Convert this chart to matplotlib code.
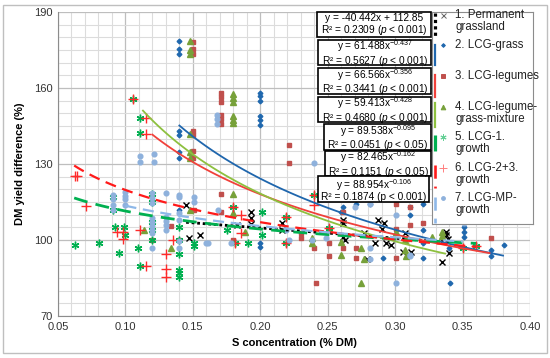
import numpy as np
import matplotlib
matplotlib.use("Agg")
import matplotlib.pyplot as plt
from matplotlib.patches import Rectangle

plt.rcParams['font.family'] = ['Liberation Sans', 'DejaVu Sans']
plt.rcParams['mathtext.fontset'] = 'custom'
plt.rcParams['mathtext.rm'] = 'Liberation Sans'
plt.rcParams['mathtext.it'] = 'Liberation Sans:italic'

# Data (S concentration, DM yield difference)
pg_x = [0.145, 0.147, 0.155, 0.183, 0.193, 0.193, 0.193, 0.216, 0.216, 0.261, 0.261, 0.261, 0.263, 0.277, 0.279,
        0.285, 0.287, 0.292, 0.290, 0.293, 0.297, 0.306, 0.312, 0.307, 0.338, 0.338, 0.339, 0.340, 0.335]
pg_y = [113.8, 100.7, 102.0, 105.9, 111.0, 108.5, 106.5, 106.6, 104.0, 107.9, 106.6, 101.3, 100.0, 102.6, 92.4,
        98.7, 107.9, 106.9, 104.4, 98.9, 98.0, 95.1, 95.1, 102.6, 102.0, 103.3, 100.5, 94.8, 91.4]

grass_x = [0.14, 0.14, 0.14, 0.14, 0.14, 0.14, 0.14, 0.14, 0.20, 0.20, 0.20, 0.20, 0.20, 0.20, 0.20, 0.20,
           0.261, 0.271, 0.281, 0.311, 0.311, 0.321, 0.321, 0.321, 0.321, 0.291, 0.340, 0.341, 0.351, 0.351,
           0.351, 0.371, 0.371, 0.381, 0.26]
grass_y = [178.4, 175.4, 173.4, 143.0, 141.5, 134.9, 132.2, 112.0, 158.0, 156.7, 155.0, 148.9, 147.2, 145.4, 98.7, 97.4,
           113.1, 114.1, 114.1, 113.1, 109.9, 114.1, 104.0, 98.7, 92.8, 92.8, 96.7, 82.9, 105.3, 103.3,
           101.3, 96.0, 93.7, 98.0, 111.2]

leg_x = [0.15, 0.15, 0.15, 0.15, 0.15, 0.15, 0.15, 0.151, 0.134, 0.12, 0.14, 0.171, 0.171, 0.171, 0.171, 0.171,
         0.171, 0.171, 0.171, 0.221, 0.221, 0.230, 0.230, 0.240, 0.241, 0.251, 0.251, 0.261, 0.261, 0.271, 0.271,
         0.301, 0.301, 0.301, 0.311, 0.311, 0.321, 0.371, 0.18]
leg_y = [178.0, 175.5, 173.5, 143.0, 141.5, 135.2, 132.5, 112.0, 105.5, 100.0, 100.0, 158.1, 156.6, 154.6, 149.3, 147.6,
         145.8, 118.0, 111.0, 137.5, 130.3, 102.6, 100.7, 96.7, 83.1, 98.7, 93.7, 111.2, 96.7, 96.7, 92.8,
         114.1, 104.2, 92.8, 113.1, 105.9, 106.8, 100.9, 100.0]

mix_x = [0.148, 0.148, 0.148, 0.148, 0.148, 0.148, 0.148, 0.18, 0.18, 0.18, 0.18, 0.18, 0.18, 0.18, 0.18,
         0.114, 0.134, 0.189, 0.238, 0.238, 0.251, 0.260, 0.260, 0.275, 0.277, 0.275, 0.301, 0.307, 0.307, 0.308,
         0.327, 0.335, 0.335]
mix_y = [178.5, 175.0, 173.5, 142.0, 134.9, 132.2, 111.8, 157.8, 156.0, 154.6, 149.0, 147.5, 146.0, 118.0, 110.5,
         104.0, 96.8, 103.3, 100.7, 98.9, 104.2, 99.3, 94.1, 97.0, 92.4, 82.9, 103.3, 100.0, 96.0, 93.5,
         101.3, 101.6, 103.0]

g1_x = [0.1056, 0.111, 0.111, 0.0626, 0.0806, 0.092, 0.099, 0.100, 0.095, 0.109, 0.111, 0.091, 0.091, 0.12, 0.12,
        0.12, 0.12, 0.12, 0.14, 0.14, 0.14, 0.14, 0.14, 0.14, 0.151, 0.151, 0.175, 0.18, 0.181, 0.191, 0.201,
        0.201, 0.219, 0.219, 0.240, 0.251, 0.350, 0.360]
g1_y = [155.5, 148.0, 142.1, 98.0, 98.7, 105.0, 105.0, 102.0, 94.7, 97.0, 89.7, 117.0, 111.8, 118.0, 115.0,
        107.2, 104.0, 100.0, 105.0, 100.0, 94.4, 88.1, 85.5, 87.0, 98.7, 97.5, 104.0, 113.1, 98.7, 98.9, 111.2,
        102.0, 109.2, 98.7, 117.8, 104.6, 96.7, 97.6]

g23_x = [0.0626, 0.064, 0.071, 0.1056, 0.115, 0.115, 0.094, 0.098, 0.098, 0.115, 0.13, 0.13, 0.13, 0.135, 0.111,
         0.18, 0.186, 0.186, 0.181, 0.219, 0.219, 0.240, 0.240, 0.251, 0.360, 0.350]
g23_y = [125.3, 125.3, 113.5, 155.5, 148.0, 142.0, 103.3, 103.0, 100.3, 89.7, 94.4, 88.4, 85.5, 100.0, 104.0,
         113.1, 109.9, 102.9, 98.7, 109.2, 98.7, 113.8, 117.8, 104.6, 97.6, 96.7]

mp_x = [0.168, 0.168, 0.168, 0.111, 0.111, 0.121, 0.121, 0.091, 0.091, 0.091, 0.091, 0.10, 0.10, 0.10, 0.10,
        0.12, 0.12, 0.12, 0.12, 0.12, 0.12, 0.12, 0.12, 0.12, 0.13, 0.13, 0.13, 0.13, 0.13,
        0.14, 0.14, 0.14, 0.14, 0.14, 0.14, 0.151, 0.151, 0.161, 0.16, 0.178, 0.169, 0.240, 0.219, 0.238,
        0.221, 0.249, 0.281, 0.281, 0.281, 0.301, 0.301, 0.311, 0.311, 0.351, 0.27]
mp_y = [149.3, 147.6, 145.8, 133.1, 130.8, 134.0, 130.8, 117.8, 116.0, 114.0, 112.0, 119.0, 117.5, 116.0, 114.0,
        118.4, 116.5, 114.5, 108.6, 107.0, 105.5, 104.0, 102.6, 97.0, 118.7, 109.2, 107.5, 106.0, 104.0,
        117.8, 117.0, 110.5, 108.0, 99.5, 97.0, 117.0, 115.0, 99.0, 98.7, 98.7, 111.8, 130.3, 104.0, 100.0,
        100.0, 100.7, 114.1, 92.4, 97.0, 109.9, 82.9, 94.1, 93.7, 106.8, 113.0]

# Trendlines (equations shown in chart) and their x ranges
lin_a, lin_b = -40.442, 112.85
pow_a = [61.488, 66.566, 59.413, 89.538, 82.465, 88.954]
pow_b = [-0.437, -0.356, -0.428, -0.095, -0.162, -0.106]
trend_lo = [0.145, 0.14, 0.12, 0.113, 0.062, 0.062, 0.10]
trend_hi = [0.34, 0.38, 0.37, 0.337, 0.36, 0.36, 0.35]
r2 = ["0.2309", "0.5627", "0.3441", "0.4680", "0.0451", "0.1151", "0.1874"]
pval = ["0.001", "0.001", "0.001", "0.001", "0.05", "0.05", "0.001"]

labels = ["1. Permanent\ngrassland", "2. LCG-grass", "3. LCG-legumes", "4. LCG-legume-\ngrass-mixture",
          "5. LCG-1.\ngrowth", "6. LCG-2+3.\ngrowth", "7. LCG-MP-\ngrowth"]

colors = ['black', '#2068AE', '#C0504D', '#77A13A', '#00B050', '#FF2A2A', '#8EB1DC']
line_colors = ['black', '#1F66AD', '#F0413B', '#8DC03F', '#00B050', '#FF1A1A', '#8EB8E8']
line_styles = [(0, (1, 1)), '-', '-', '-', (0, (5, 3)), (0, (5, 3)), (0, (5, 3))]
line_widths = [2.0, 1.3, 1.3, 1.3, 2.0, 1.6, 1.6]
markers = ['x', 'D', 's', '^', (6, 2, 0), '+', 'o']
msizes = [4.5, 2.4, 3.2, 4.2, 5.5, 6.5, 3.4]

series_x = [pg_x, grass_x, leg_x, mix_x, g1_x, g23_x, mp_x]
series_y = [pg_y, grass_y, leg_y, mix_y, g1_y, g23_y, mp_y]

fig = plt.figure(figsize=(5.5, 3.58), dpi=100)
ax = fig.add_axes([58/550, 1-316/358, 472/550, 304/358])

for i in range(7):
    ax.plot(series_x[i], series_y[i], linestyle='none', marker=markers[i], ms=msizes[i],
            color=colors[i], mec=colors[i], mew=1.0, zorder=3)

# Trend lines
for i in range(7):
    xs = np.linspace(trend_lo[i], trend_hi[i], 100)
    if i == 0:
        ys = lin_a * xs + lin_b
    else:
        ys = pow_a[i-1] * xs ** pow_b[i-1]
    ax.plot(xs, ys, color=line_colors[i], ls=line_styles[i], lw=line_widths[i], zorder=4)

ax.set_xlim(0.05, 0.40)
ax.set_ylim(70, 190)
ax.set_xticks(np.arange(0.05, 0.401, 0.05))
ax.set_xticklabels(["%.2f" % v for v in np.arange(0.05, 0.401, 0.05)])
ax.set_yticks([70, 100, 130, 160, 190])
ax.set_xticks(np.arange(0.05, 0.401, 0.01), minor=True)
ax.set_yticks(np.arange(70, 191, 5), minor=True)
ax.grid(which='major', color='#BEBEBE', lw=0.9)
ax.grid(which='minor', color='#DCDCDC', lw=0.8)
ax.set_axisbelow(True)
ax.tick_params(which='both', length=0, labelsize=8, colors='#333333', pad=4)
for s in ['top', 'right']:
    ax.spines[s].set_visible(False)
for s in ['left', 'bottom']:
    ax.spines[s].set_color('#8C8C8C')

ax.set_xlabel("S concentration (% DM)", fontsize=8, fontweight='bold', labelpad=5)
ax.set_ylabel("DM yield difference (%)", fontsize=8, fontweight='bold', labelpad=6)

# Overlay in pixel units for the equation boxes
oax = fig.add_axes([0, 0, 1, 1], zorder=5)
oax.set_xlim(0, 550)
oax.set_ylim(358, 0)
oax.axis('off')
oax.patch.set_alpha(0)

box_l = [317, 318, 318, 318, 324, 325, 318]
box_r = [431, 431, 431, 431, 431, 431, 429]
box_t = [12, 40, 68, 97, 124, 151, 176]
box_b = [37, 65, 94, 122, 150, 176, 202]
for i in range(7):
    if i == 0:
        eq = "y = %.3fx + %.2f" % (lin_a, lin_b)
    else:
        eq = "y = %.3fx$^{%.3f}$" % (pow_a[i-1], pow_b[i-1])
    if i == 6:
        second = "R² = %s (p < %s)" % (r2[i], pval[i])
    else:
        second = "R² = %s ($\\it{p}$ < %s)" % (r2[i], pval[i])
    oax.add_patch(Rectangle((box_l[i], box_t[i]), box_r[i] - box_l[i], box_b[i] - box_t[i],
                            fc='white', ec='black', lw=1.2))
    cx = (box_l[i] + box_r[i]) / 2
    cy = (box_t[i] + box_b[i]) / 2
    oax.text(cx + 0.5, cy + 0.5, eq + "\n" + second, ha='center', va='center', fontsize=7.3,
             linespacing=0.95, multialignment='center')

# Legend drawn by hand
lax = fig.add_axes([432/550, 1-224/358, 101/550, 212/358])
lax.set_xlim(0, 101)
lax.set_ylim(212, 0)
lax.set_xticks([])
lax.set_yticks([])
for s in lax.spines.values():
    s.set_color('#8C8C8C')
    s.set_linewidth(0.8)
lax.patch.set_facecolor('white')

seg_top = [1, 33, 63, 91, 123, 153, 185]
seg_bot = [25, 53, 85, 115, 145, 176, 211]
mark_y = [3, 33, 64, 95, 125, 156, 186]
text_y = [9, 33, 64, 101, 131, 162, 192]
for i in range(7):
    lax.plot([2.5, 2.5], [seg_top[i], seg_bot[i]], color=line_colors[i], ls=line_styles[i],
             lw=line_widths[i] + 0.3)
    lax.plot([11], [mark_y[i]], marker=markers[i], ms=msizes[i] * 0.8, color=colors[i],
             mec=colors[i], mew=0.7, alpha=0.6 if i in (0, 4, 5) else 1.0, linestyle='none')
    lax.text(23, text_y[i], labels[i], fontsize=8.3, va='center', ha='left', linespacing=1.0,
             color='#222222')

# Outer frame
fig.patches.append(Rectangle((3/550, 1-353/358), 544/550, 348/358, transform=fig.transFigure,
                             fill=False, ec='#BFBFBF', lw=1.0))

fig.savefig("out.png", dpi=100)
